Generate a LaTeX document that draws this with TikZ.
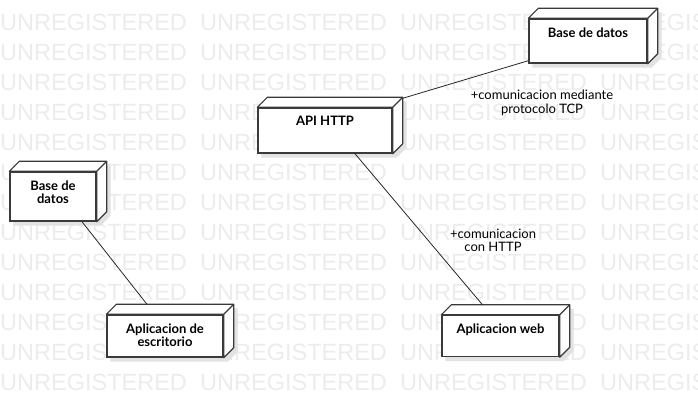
\documentclass[tikz,border=0pt]{standalone}
\usepackage{fontspec}
\setmainfont{Lato}
\newfontfamily\markfont{Liberation Sans}
\usetikzlibrary{calc,backgrounds}
\definecolor{markgray}{HTML}{ECECEC}
\definecolor{edgegray}{HTML}{3A3A3A}
\definecolor{shadowgray}{HTML}{E2E2E2}

\tikzset{
  devbox/.style={draw=edgegray, line width=1.4pt, fill=white, inner sep=0pt,
    minimum width=#1},
  boxface/.style={draw=edgegray, line width=1.2pt, fill=white, line join=round},
  boxname/.style={label={[anchor=north, yshift=-9pt, inner sep=0pt, align=center,
    font=\bfseries\fontsize{13}{13.5}\selectfont]north:#1}},
  link/.style={draw=black!85, line width=0.8pt},
  linklabel/.style={align=center, inner sep=0pt, font=\fontsize{13}{13.5}\selectfont},
  marktext/.style={anchor=base west, inner sep=0pt, text=markgray,
    font=\markfont\fontsize{23.5}{24}\selectfont}
}

\begin{document}
\begin{tikzpicture}[x=1pt, y=-1pt]
    \useasboundingbox (0,0) rectangle (698,402);
    \node[devbox=118, minimum height=44, boxname={Base de datos}] (dbtop) at (588,41) {};
    \node[devbox=134, minimum height=45, boxname={API HTTP}] (api) at (325,130.5) {};
    \node[devbox=86, minimum height=49, boxname={Base de\\datos}] (dbleft) at (53,196.5) {};
    \node[devbox=116, minimum height=42, boxname={Aplicacion de\\escritorio}] (desk) at (165,336) {};
    \node[devbox=117, minimum height=41, boxname={Aplicacion web}] (web) at (500.5,336) {};
    \foreach \n in {dbtop,api,dbleft,desk,web}{
      \filldraw[boxface] (\n.north west) -- ++(10,-10) -- ($(\n.north east)+(10,-10)$)
        -- ($(\n.south east)+(10,-10)$) -- (\n.south east) -- (\n.north east) -- cycle;
      \draw[boxface] (\n.north east) -- ++(10,-10);
    }
    \begin{scope}[on background layer]
      \foreach \r in {0,...,12}{
        \foreach \c in {0,...,3}{
          \node[marktext] (mark-\r-\c) at (200*\c,30.3+30*\r) {UNREGISTERED};
        }
      }
      \foreach \n in {dbtop,api,dbleft,desk,web}{
        \fill[shadowgray] ($(\n.north west)+(4,4)$) -- ++(10,-10) -- ($(\n.north east)+(14,-6)$)
          -- ($(\n.south east)+(14,-6)$) -- ($(\n.south east)+(4,4)$) -- ($(\n.south west)+(4,4)$) -- cycle;
      }
    \end{scope}
    \draw[link] ($(api.north east)+(10,-9)$) -- ($(dbtop.south west)+(0,-3)$);
    \draw[link] ($(api.south)+(30,0)$) -- ($(web.north)+(-18,-10)$);
    \draw[link] ($(dbleft.south)+(29,0)$) -- ($(desk.north)+(-18,-10)$);
    \node[linklabel] (tcp) at (542,103) {+comunicacion mediante\\protocolo TCP};
    \node[linklabel] (http) at (493,240.5) {+comunicacion\\con HTTP};
\end{tikzpicture}
\end{document}
